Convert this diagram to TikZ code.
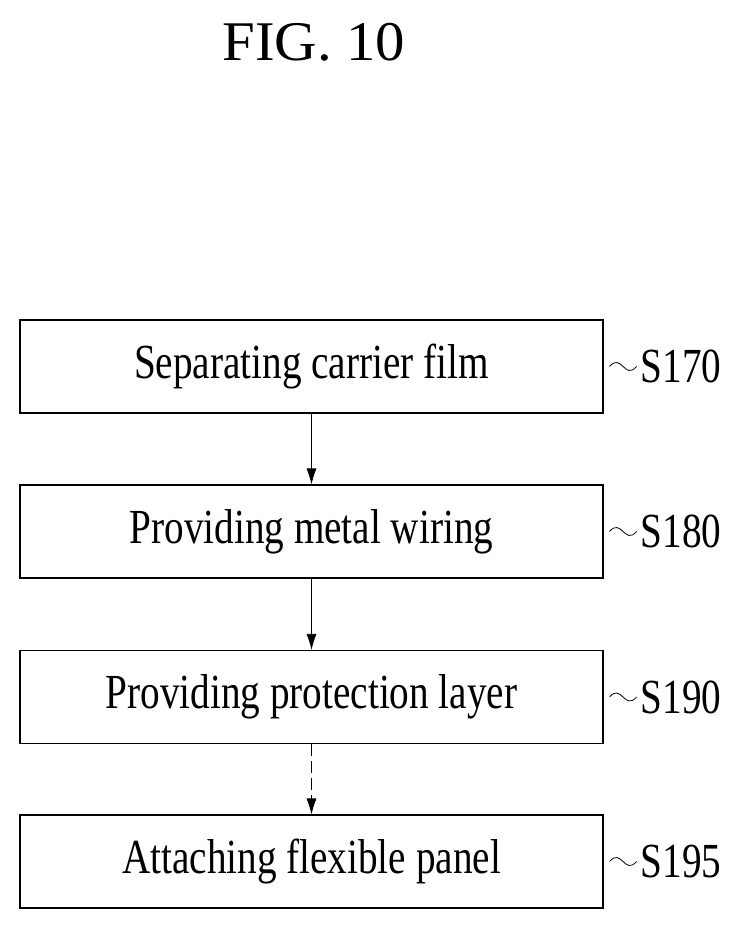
\documentclass[tikz,border=0pt]{standalone}
\usepackage{fontspec}
\setmainfont{Liberation Serif}[FakeStretch=0.8]
\usetikzlibrary{positioning,calc,arrows.meta}

\begin{document}
\begin{tikzpicture}[x=1pt,y=-1pt,
  stepbox/.style = {draw, line width=1.1pt, minimum width=583pt, minimum height=93pt, inner sep=0pt, font=\fontsize{49}{52}\selectfont},
  tag/.style = {font=\fontsize{49}{52}\selectfont, inner sep=0pt, anchor=west},
  flow/.style = {-{Latex[length=16pt,width=10pt]}, line width=0.7pt}]
\useasboundingbox (0,0) rectangle (741,931);
\node[font=\fontsize{56}{60}\selectfont\addfontfeature{FakeStretch=1.05}] (fig) at (314,42) {FIG. 10};
\node[stepbox] (170) at (311.5,366.5) {Separating carrier film};
\node[stepbox] (180) at (311.5,531.5) {Providing metal wiring};
\node[stepbox] (190) at (311.5,697) {Providing protection layer};
\node[stepbox] (195) at (311.5,861.5) {Attaching flexible panel};
\draw[flow] (170) -- (180);
\draw[flow] (180) -- (190);
\draw[flow, dash pattern=on 12pt off 5pt] (190) -- (195);
\foreach \s in {170,180,190,195} {
  \node[tag, right=37pt of \s] (l\s) {S\s};
  \coordinate (t\s) at ($(\s.east)+(6,0)$);
  \draw[line width=0.8pt] (t\s) .. controls +(12,-14) and +(-12,14) .. ($(l\s.west)+(-4,0)$);
}
\end{tikzpicture}
\end{document}
